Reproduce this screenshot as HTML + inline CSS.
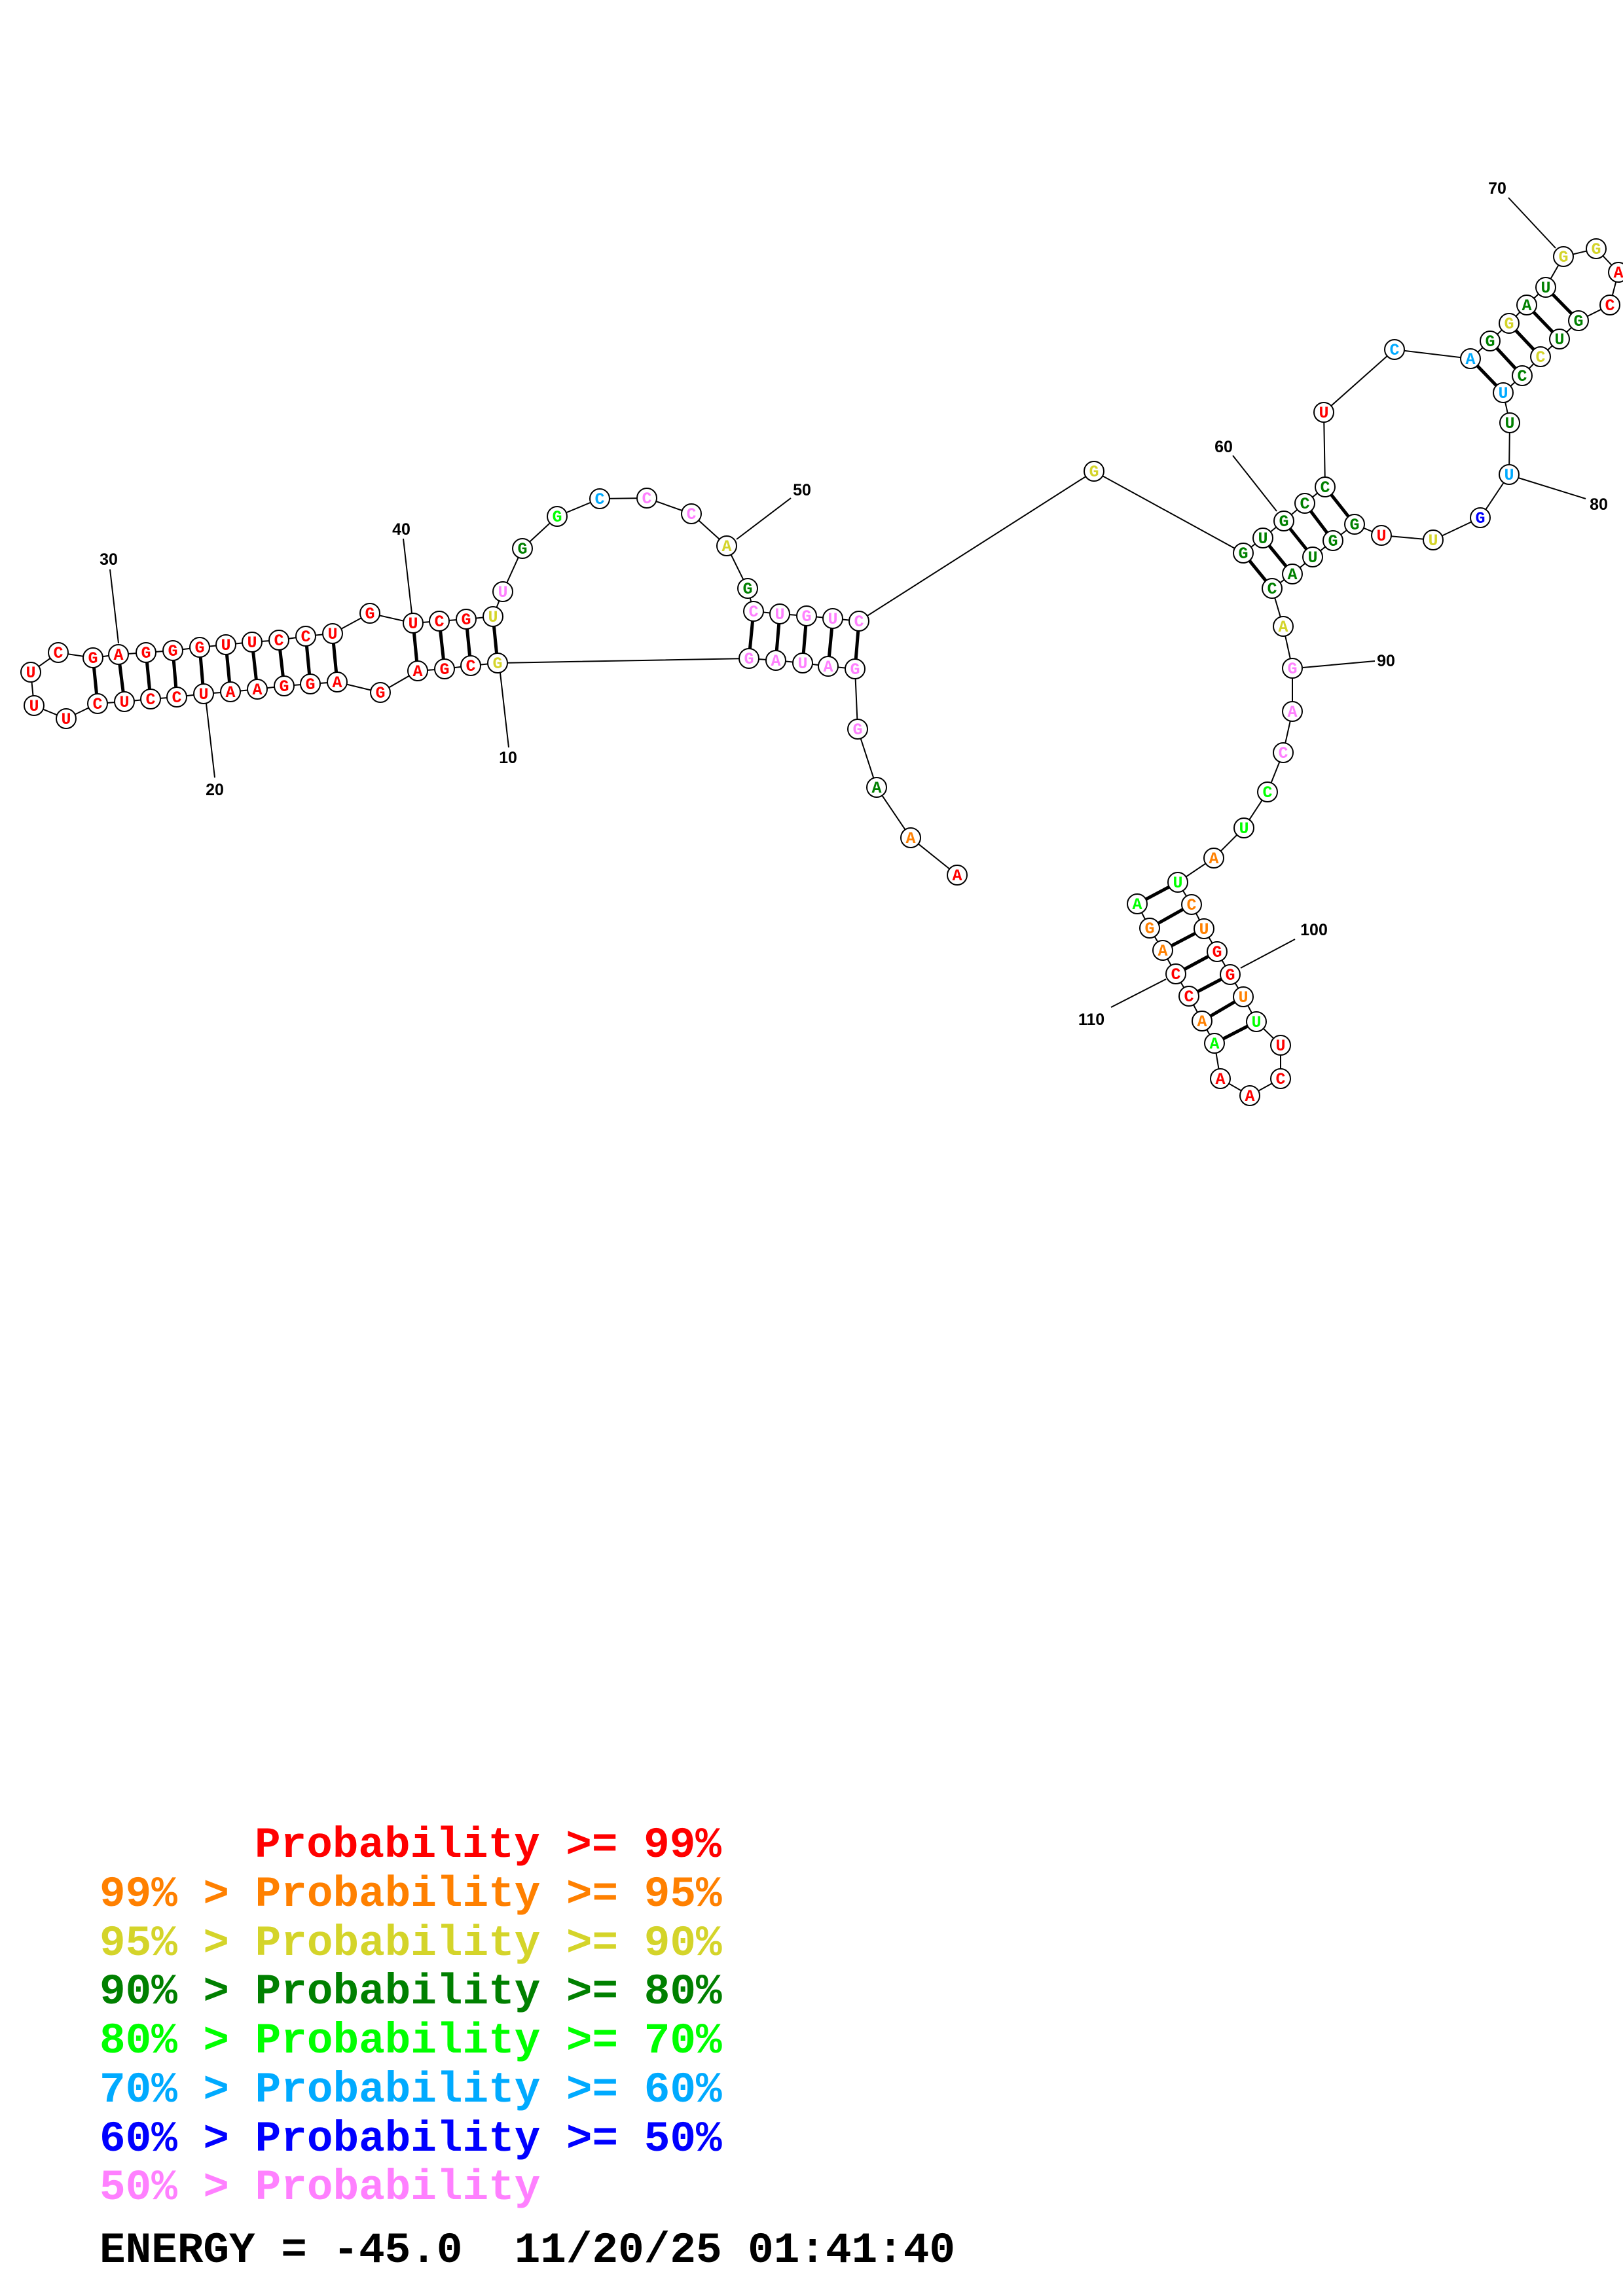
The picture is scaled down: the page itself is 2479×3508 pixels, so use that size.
<!DOCTYPE html>
<html><head><meta charset="utf-8"><style>
html,body{margin:0;padding:0;background:#fff}
svg{display:block}
.n circle{fill:#fff;stroke:#000;stroke-width:2}
.n text{font-family:"Liberation Mono",monospace;font-weight:bold;font-size:25px;text-anchor:middle}
.lb{font-family:"Liberation Sans",sans-serif;font-weight:bold;font-size:25px;text-anchor:middle;fill:#000}
.lg{font-family:"Liberation Mono",monospace;font-weight:bold;font-size:66px}
.r{fill:#ff0000}.o{fill:#ff8000}.y{fill:#d4d42a}.g{fill:#008000}.l{fill:#00ff00}.b{fill:#00aaff}.d{fill:#0000ff}.p{fill:#ff80ff}
</style></head><body>
<svg width="2479" height="3508" viewBox="0 0 2479 3508" xmlns="http://www.w3.org/2000/svg">
<rect width="2479" height="3508" fill="#fff"/>
<g stroke="#000" stroke-width="2" fill="none">
<polyline points="1462,1337 1391,1280 1339,1203 1310,1114 1306,1022 1265,1018 1226,1013 1185,1009 1144,1006 760,1013 719,1017 679,1022 638,1025 581,1058 515,1042 474,1045 434,1048 393,1053 352,1057 311,1060 270,1065 230,1068 190,1072 149,1075 101,1098 52,1078 47,1027 89,997 142,1005 181,1000 223,997 264,994 305,989 345,985 385,981 426,978 467,972 508,968 565,937 631,952 671,949 712,946 753,942 768,904 798,838 851,789 916,762 988,761 1056,785 1110,834 1142,899 1151,934 1191,938 1232,941 1272,945 1312,949 1671,720 1899,845 1929,822 1961,796 1993,769 2024,744 2022,630 2130,534 2246,548 2276,521 2305,494 2332,466 2361,439 2388,392 2438,380 2472,416 2459,466 2411,490 2382,518 2353,545 2325,574 2296,600 2306,646 2305,725 2261,791 2189,825 2110,818 2069,801 2036,826 2005,851 1974,877 1943,899 1960,957 1974,1021 1974,1087 1960,1150 1936,1210 1900,1265 1854,1311 1799,1348 1820,1382 1839,1419 1859,1454 1879,1489 1899,1523 1919,1561 1956,1597 1956,1648 1909,1674 1864,1648 1855,1594 1836,1560 1816,1522 1796,1488 1776,1452 1756,1418 1737,1381"/>
<!-- label lines -->
<line x1="168" y1="870" x2="181" y2="983"/>
<line x1="616" y1="823" x2="629" y2="937"/>
<line x1="315" y1="1075" x2="328" y2="1188"/>
<line x1="764" y1="1028" x2="777" y2="1142"/>
<line x1="1208" y1="761" x2="1125" y2="824"/>
<line x1="2304" y1="302" x2="2376" y2="379"/>
<line x1="1883" y1="696" x2="1950" y2="781"/>
<line x1="2319" y1="730" x2="2422" y2="762"/>
<line x1="1990" y1="1020" x2="2100" y2="1010"/>
<line x1="1978" y1="1435" x2="1895" y2="1479"/>
<line x1="1697" y1="1539" x2="1781" y2="1496"/>
</g>
<g stroke="#000" stroke-width="5">
<line x1="1151" y1="934" x2="1144" y2="1006"/><line x1="1191" y1="938" x2="1185" y2="1009"/><line x1="1232" y1="941" x2="1226" y2="1013"/><line x1="1272" y1="945" x2="1265" y2="1018"/><line x1="1312" y1="949" x2="1306" y2="1022"/>
<line x1="760" y1="1013" x2="753" y2="942"/><line x1="719" y1="1017" x2="712" y2="946"/><line x1="679" y1="1022" x2="671" y2="949"/><line x1="638" y1="1025" x2="631" y2="952"/>
<line x1="515" y1="1042" x2="508" y2="968"/><line x1="474" y1="1045" x2="467" y2="972"/><line x1="434" y1="1048" x2="426" y2="978"/><line x1="393" y1="1053" x2="385" y2="981"/><line x1="352" y1="1057" x2="345" y2="985"/><line x1="311" y1="1060" x2="305" y2="989"/><line x1="270" y1="1065" x2="264" y2="994"/><line x1="230" y1="1068" x2="223" y2="997"/><line x1="190" y1="1072" x2="181" y2="1000"/><line x1="149" y1="1075" x2="142" y2="1005"/>
<line x1="1899" y1="845" x2="1943" y2="899"/><line x1="1929" y1="822" x2="1974" y2="877"/><line x1="1961" y1="796" x2="2005" y2="851"/><line x1="1993" y1="769" x2="2036" y2="826"/><line x1="2024" y1="744" x2="2069" y2="801"/>
<line x1="2246" y1="548" x2="2296" y2="600"/><line x1="2276" y1="521" x2="2325" y2="574"/><line x1="2305" y1="494" x2="2353" y2="545"/><line x1="2332" y1="466" x2="2382" y2="518"/><line x1="2361" y1="439" x2="2411" y2="490"/>
<line x1="1799" y1="1348" x2="1737" y2="1381"/><line x1="1820" y1="1382" x2="1756" y2="1418"/><line x1="1839" y1="1419" x2="1776" y2="1452"/><line x1="1859" y1="1454" x2="1796" y2="1488"/><line x1="1879" y1="1489" x2="1816" y2="1522"/><line x1="1899" y1="1523" x2="1836" y2="1560"/><line x1="1919" y1="1561" x2="1855" y2="1594"/>
</g>
<g class="n">
<circle cx="1462" cy="1337" r="15"/><text x="1462" y="1345" class="r">A</text>
<circle cx="1391" cy="1280" r="15"/><text x="1391" y="1288" class="o">A</text>
<circle cx="1339" cy="1203" r="15"/><text x="1339" y="1211" class="g">A</text>
<circle cx="1310" cy="1114" r="15"/><text x="1310" y="1122" class="p">G</text>
<circle cx="1306" cy="1022" r="15"/><text x="1306" y="1030" class="p">G</text>
<circle cx="1265" cy="1018" r="15"/><text x="1265" y="1026" class="p">A</text>
<circle cx="1226" cy="1013" r="15"/><text x="1226" y="1021" class="p">U</text>
<circle cx="1185" cy="1009" r="15"/><text x="1185" y="1017" class="p">A</text>
<circle cx="1144" cy="1006" r="15"/><text x="1144" y="1014" class="p">G</text>
<circle cx="760" cy="1013" r="15"/><text x="760" y="1021" class="y">G</text>
<circle cx="719" cy="1017" r="15"/><text x="719" y="1025" class="r">C</text>
<circle cx="679" cy="1022" r="15"/><text x="679" y="1030" class="r">G</text>
<circle cx="638" cy="1025" r="15"/><text x="638" y="1033" class="r">A</text>
<circle cx="581" cy="1058" r="15"/><text x="581" y="1066" class="r">G</text>
<circle cx="515" cy="1042" r="15"/><text x="515" y="1050" class="r">A</text>
<circle cx="474" cy="1045" r="15"/><text x="474" y="1053" class="r">G</text>
<circle cx="434" cy="1048" r="15"/><text x="434" y="1056" class="r">G</text>
<circle cx="393" cy="1053" r="15"/><text x="393" y="1061" class="r">A</text>
<circle cx="352" cy="1057" r="15"/><text x="352" y="1065" class="r">A</text>
<circle cx="311" cy="1060" r="15"/><text x="311" y="1068" class="r">U</text>
<circle cx="270" cy="1065" r="15"/><text x="270" y="1073" class="r">C</text>
<circle cx="230" cy="1068" r="15"/><text x="230" y="1076" class="r">C</text>
<circle cx="190" cy="1072" r="15"/><text x="190" y="1080" class="r">U</text>
<circle cx="149" cy="1075" r="15"/><text x="149" y="1083" class="r">C</text>
<circle cx="101" cy="1098" r="15"/><text x="101" y="1106" class="r">U</text>
<circle cx="52" cy="1078" r="15"/><text x="52" y="1086" class="r">U</text>
<circle cx="47" cy="1027" r="15"/><text x="47" y="1035" class="r">U</text>
<circle cx="89" cy="997" r="15"/><text x="89" y="1005" class="r">C</text>
<circle cx="142" cy="1005" r="15"/><text x="142" y="1013" class="r">G</text>
<circle cx="181" cy="1000" r="15"/><text x="181" y="1008" class="r">A</text>
<circle cx="223" cy="997" r="15"/><text x="223" y="1005" class="r">G</text>
<circle cx="264" cy="994" r="15"/><text x="264" y="1002" class="r">G</text>
<circle cx="305" cy="989" r="15"/><text x="305" y="997" class="r">G</text>
<circle cx="345" cy="985" r="15"/><text x="345" y="993" class="r">U</text>
<circle cx="385" cy="981" r="15"/><text x="385" y="989" class="r">U</text>
<circle cx="426" cy="978" r="15"/><text x="426" y="986" class="r">C</text>
<circle cx="467" cy="972" r="15"/><text x="467" y="980" class="r">C</text>
<circle cx="508" cy="968" r="15"/><text x="508" y="976" class="r">U</text>
<circle cx="565" cy="937" r="15"/><text x="565" y="945" class="r">G</text>
<circle cx="631" cy="952" r="15"/><text x="631" y="960" class="r">U</text>
<circle cx="671" cy="949" r="15"/><text x="671" y="957" class="r">C</text>
<circle cx="712" cy="946" r="15"/><text x="712" y="954" class="r">G</text>
<circle cx="753" cy="942" r="15"/><text x="753" y="950" class="y">U</text>
<circle cx="768" cy="904" r="15"/><text x="768" y="912" class="p">U</text>
<circle cx="798" cy="838" r="15"/><text x="798" y="846" class="g">G</text>
<circle cx="851" cy="789" r="15"/><text x="851" y="797" class="l">G</text>
<circle cx="916" cy="762" r="15"/><text x="916" y="770" class="b">C</text>
<circle cx="988" cy="761" r="15"/><text x="988" y="769" class="p">C</text>
<circle cx="1056" cy="785" r="15"/><text x="1056" y="793" class="p">C</text>
<circle cx="1110" cy="834" r="15"/><text x="1110" y="842" class="y">A</text>
<circle cx="1142" cy="899" r="15"/><text x="1142" y="907" class="g">G</text>
<circle cx="1151" cy="934" r="15"/><text x="1151" y="942" class="p">C</text>
<circle cx="1191" cy="938" r="15"/><text x="1191" y="946" class="p">U</text>
<circle cx="1232" cy="941" r="15"/><text x="1232" y="949" class="p">G</text>
<circle cx="1272" cy="945" r="15"/><text x="1272" y="953" class="p">U</text>
<circle cx="1312" cy="949" r="15"/><text x="1312" y="957" class="p">C</text>
<circle cx="1671" cy="720" r="15"/><text x="1671" y="728" class="y">G</text>
<circle cx="1899" cy="845" r="15"/><text x="1899" y="853" class="g">G</text>
<circle cx="1929" cy="822" r="15"/><text x="1929" y="830" class="g">U</text>
<circle cx="1961" cy="796" r="15"/><text x="1961" y="804" class="g">G</text>
<circle cx="1993" cy="769" r="15"/><text x="1993" y="777" class="g">C</text>
<circle cx="2024" cy="744" r="15"/><text x="2024" y="752" class="g">C</text>
<circle cx="2022" cy="630" r="15"/><text x="2022" y="638" class="r">U</text>
<circle cx="2130" cy="534" r="15"/><text x="2130" y="542" class="b">C</text>
<circle cx="2246" cy="548" r="15"/><text x="2246" y="556" class="b">A</text>
<circle cx="2276" cy="521" r="15"/><text x="2276" y="529" class="g">G</text>
<circle cx="2305" cy="494" r="15"/><text x="2305" y="502" class="y">G</text>
<circle cx="2332" cy="466" r="15"/><text x="2332" y="474" class="g">A</text>
<circle cx="2361" cy="439" r="15"/><text x="2361" y="447" class="g">U</text>
<circle cx="2388" cy="392" r="15"/><text x="2388" y="400" class="y">G</text>
<circle cx="2438" cy="380" r="15"/><text x="2438" y="388" class="y">G</text>
<circle cx="2472" cy="416" r="15"/><text x="2472" y="424" class="r">A</text>
<circle cx="2459" cy="466" r="15"/><text x="2459" y="474" class="r">C</text>
<circle cx="2411" cy="490" r="15"/><text x="2411" y="498" class="g">G</text>
<circle cx="2382" cy="518" r="15"/><text x="2382" y="526" class="g">U</text>
<circle cx="2353" cy="545" r="15"/><text x="2353" y="553" class="y">C</text>
<circle cx="2325" cy="574" r="15"/><text x="2325" y="582" class="g">C</text>
<circle cx="2296" cy="600" r="15"/><text x="2296" y="608" class="b">U</text>
<circle cx="2306" cy="646" r="15"/><text x="2306" y="654" class="g">U</text>
<circle cx="2305" cy="725" r="15"/><text x="2305" y="733" class="b">U</text>
<circle cx="2261" cy="791" r="15"/><text x="2261" y="799" class="d">G</text>
<circle cx="2189" cy="825" r="15"/><text x="2189" y="833" class="y">U</text>
<circle cx="2110" cy="818" r="15"/><text x="2110" y="826" class="r">U</text>
<circle cx="2069" cy="801" r="15"/><text x="2069" y="809" class="g">G</text>
<circle cx="2036" cy="826" r="15"/><text x="2036" y="834" class="g">G</text>
<circle cx="2005" cy="851" r="15"/><text x="2005" y="859" class="g">U</text>
<circle cx="1974" cy="877" r="15"/><text x="1974" y="885" class="g">A</text>
<circle cx="1943" cy="899" r="15"/><text x="1943" y="907" class="g">C</text>
<circle cx="1960" cy="957" r="15"/><text x="1960" y="965" class="y">A</text>
<circle cx="1974" cy="1021" r="15"/><text x="1974" y="1029" class="p">G</text>
<circle cx="1974" cy="1087" r="15"/><text x="1974" y="1095" class="p">A</text>
<circle cx="1960" cy="1150" r="15"/><text x="1960" y="1158" class="p">C</text>
<circle cx="1936" cy="1210" r="15"/><text x="1936" y="1218" class="l">C</text>
<circle cx="1900" cy="1265" r="15"/><text x="1900" y="1273" class="l">U</text>
<circle cx="1854" cy="1311" r="15"/><text x="1854" y="1319" class="o">A</text>
<circle cx="1799" cy="1348" r="15"/><text x="1799" y="1356" class="l">U</text>
<circle cx="1820" cy="1382" r="15"/><text x="1820" y="1390" class="o">C</text>
<circle cx="1839" cy="1419" r="15"/><text x="1839" y="1427" class="o">U</text>
<circle cx="1859" cy="1454" r="15"/><text x="1859" y="1462" class="r">G</text>
<circle cx="1879" cy="1489" r="15"/><text x="1879" y="1497" class="r">G</text>
<circle cx="1899" cy="1523" r="15"/><text x="1899" y="1531" class="o">U</text>
<circle cx="1919" cy="1561" r="15"/><text x="1919" y="1569" class="l">U</text>
<circle cx="1956" cy="1597" r="15"/><text x="1956" y="1605" class="r">U</text>
<circle cx="1956" cy="1648" r="15"/><text x="1956" y="1656" class="r">C</text>
<circle cx="1909" cy="1674" r="15"/><text x="1909" y="1682" class="r">A</text>
<circle cx="1864" cy="1648" r="15"/><text x="1864" y="1656" class="r">A</text>
<circle cx="1855" cy="1594" r="15"/><text x="1855" y="1602" class="l">A</text>
<circle cx="1836" cy="1560" r="15"/><text x="1836" y="1568" class="o">A</text>
<circle cx="1816" cy="1522" r="15"/><text x="1816" y="1530" class="r">C</text>
<circle cx="1796" cy="1488" r="15"/><text x="1796" y="1496" class="r">C</text>
<circle cx="1776" cy="1452" r="15"/><text x="1776" y="1460" class="o">A</text>
<circle cx="1756" cy="1418" r="15"/><text x="1756" y="1426" class="o">G</text>
<circle cx="1737" cy="1381" r="15"/><text x="1737" y="1389" class="l">A</text>
</g>
<g>
<text class="lb" x="166" y="863">30</text>
<text class="lb" x="613" y="817">40</text>
<text class="lb" x="328" y="1215">20</text>
<text class="lb" x="776" y="1166">10</text>
<text class="lb" x="1225" y="757">50</text>
<text class="lb" x="2287" y="296">70</text>
<text class="lb" x="1869" y="691">60</text>
<text class="lb" x="2442" y="779">80</text>
<text class="lb" x="2117" y="1018">90</text>
<text class="lb" x="2007" y="1429">100</text>
<text class="lb" x="1667" y="1566">110</text>
</g>
<g class="lg">
<text x="152" y="2837"><tspan class="r" x="389">Probability &gt;= 99%</tspan></text>
<text x="152" y="2912" class="o">99% &gt; Probability &gt;= 95%</text>
<text x="152" y="2987" class="y">95% &gt; Probability &gt;= 90%</text>
<text x="152" y="3061" class="g">90% &gt; Probability &gt;= 80%</text>
<text x="152" y="3136" class="l">80% &gt; Probability &gt;= 70%</text>
<text x="152" y="3211" class="b">70% &gt; Probability &gt;= 60%</text>
<text x="152" y="3286" class="d">60% &gt; Probability &gt;= 50%</text>
<text x="152" y="3360" class="p">50% &gt; Probability</text>
<text x="152" y="3456" fill="#000" xml:space="preserve">ENERGY = -45.0  11/20/25 01:41:40</text>
</g>
</svg>
</body></html>
